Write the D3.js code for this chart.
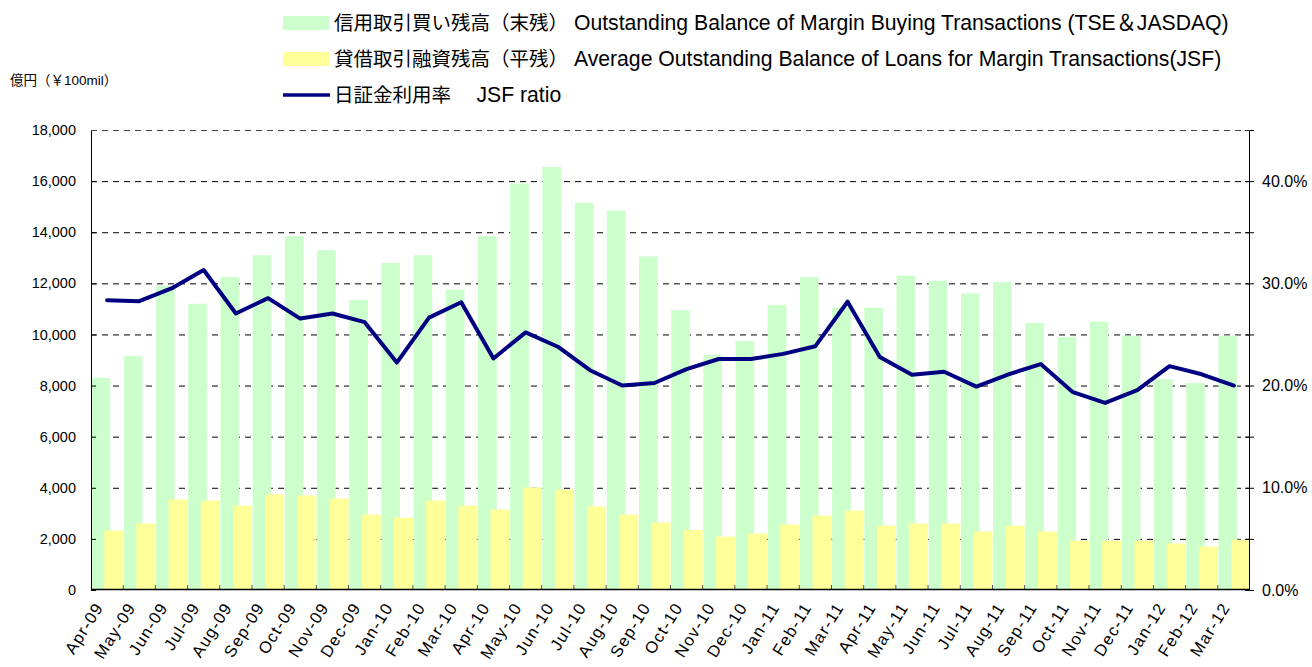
<!DOCTYPE html>
<html>
<head>
<meta charset="utf-8">
<script src="https://d3js.org/d3.v7.min.js"></script>
<style>
  body { margin: 0; background: #fff; }
  text { font-family: "Liberation Sans", Arial, "Noto Sans CJK JP", sans-serif; fill: #000; }
</style>
</head>
<body>
<div id="content"></div>
<script>
var months = ['Apr-09','May-09','Jun-09','Jul-09','Aug-09','Sep-09','Oct-09','Nov-09','Dec-09','Jan-10','Feb-10','Mar-10',
              'Apr-10','May-10','Jun-10','Jul-10','Aug-10','Sep-10','Oct-10','Nov-10','Dec-10','Jan-11','Feb-11','Mar-11',
              'Apr-11','May-11','Jun-11','Jul-11','Aug-11','Sep-11','Oct-11','Nov-11','Dec-11','Jan-12','Feb-12','Mar-12'];

// 信用取引買い残高（末残）
var buying = [8300, 9150, 11900, 11200, 12250, 13100, 13850, 13300, 11350, 12800, 13100, 11750,
              13850, 15900, 16550, 15150, 14850, 13050, 10950, 9200, 9750, 11150, 12250, 11050,
              11050, 12300, 12100, 11600, 12050, 10450, 9900, 10500, 9950, 8250, 8100, 9950];

// 貸借取引融資残高（平残）
var loans = [2325, 2600, 3540, 3500, 3300, 3740, 3700, 3580, 2950, 2830, 3500, 3300,
             3150, 4010, 3930, 3270, 2950, 2640, 2350, 2090, 2210, 2560, 2910, 3110,
             2520, 2600, 2600, 2290, 2520, 2290, 1930, 1930, 1930, 1820, 1700, 1970];

// 日証金利用率 (%)
var jsfRatio = [28.35, 28.25, 29.5, 31.3, 27.05, 28.55, 26.55, 27.05, 26.2, 22.25, 26.65, 28.15,
                22.65, 25.2, 23.8, 21.5, 20.0, 20.25, 21.6, 22.6, 22.6, 23.1, 23.85, 28.2,
                22.8, 21.05, 21.35, 19.9, 21.1, 22.1, 19.35, 18.3, 19.55, 21.9, 21.1, 20.0];

var leftTicks = [0, 2000, 4000, 6000, 8000, 10000, 12000, 14000, 16000, 18000];
var rightTicks = [0, 10, 20, 30, 40];
var rightMinor = [5, 15, 25, 35, 45];

var legendJa = ['信用取引買い残高（末残）', '貸借取引融資残高（平残）', '日証金利用率　'];
var legendEn = [' Outstanding Balance of Margin Buying Transactions (TSE＆JASDAQ)',
                ' Average Outstanding Balance of Loans for Margin Transactions(JSF)',
                ' JSF ratio'];

var margin = { top: 130, right: 62, bottom: 77, left: 91 };
var totalW = 1312, totalH = 667;
var width = totalW - margin.left - margin.right,
    height = totalH - margin.top - margin.bottom;

var green = '#ccffcc', yellow = '#ffff99', navy = '#000080';

var svg = d3.select('#content').append('svg')
    .attr('width', totalW)
    .attr('height', totalH);

var g = svg.append('g')
    .attr('transform', 'translate(' + margin.left + ',' + margin.top + ')');

var xScale = d3.scaleBand()
    .domain(months)
    .range([0, width]);

var yScale = d3.scaleLinear()
    .domain([0, 18000])
    .range([height, 0]);

var yRight = d3.scaleLinear()
    .domain([0, 45])
    .range([height, 0]);

var bw = xScale.bandwidth();

// gridlines
g.selectAll('line.grid').data(leftTicks.filter(function(d){ return d > 0; }))
    .enter().append('line')
    .attr('class', 'grid')
    .attr('x1', 0).attr('x2', width)
    .attr('y1', function(d){ return yScale(d) + 0.5; })
    .attr('y2', function(d){ return yScale(d) + 0.5; })
    .style('stroke', '#000')
    .style('stroke-width', 1)
    .style('stroke-dasharray', '6,5');

// bars
g.selectAll('rect.buy').data(buying)
    .enter().append('rect')
    .attr('class', 'buy')
    .attr('x', function(d, i){ return xScale(months[i]) + bw * 0.02; })
    .attr('width', bw * 0.58)
    .attr('y', function(d){ return yScale(d); })
    .attr('height', function(d){ return height - yScale(d); })
    .style('fill', green);

g.selectAll('rect.loan').data(loans)
    .enter().append('rect')
    .attr('class', 'loan')
    .attr('x', function(d, i){ return xScale(months[i]) + bw * 0.41; })
    .attr('width', bw * 0.59)
    .attr('y', function(d){ return yScale(d); })
    .attr('height', function(d){ return height - yScale(d); })
    .style('fill', yellow);

// ratio line
var line = d3.line()
    .x(function(d, i){ return xScale(months[i]) + bw / 2; })
    .y(function(d){ return yRight(d); });

g.append('path')
    .datum(jsfRatio)
    .attr('d', line)
    .style('fill', 'none')
    .style('stroke', navy)
    .style('stroke-width', 4)
    .style('stroke-linejoin', 'round')
    .style('stroke-linecap', 'round');

// left axis
var yAxis = d3.axisLeft(yScale)
    .tickValues(leftTicks)
    .tickSize(0)
    .tickPadding(15)
    .tickFormat(d3.format(','));

var yGuide = g.append('g').call(yAxis);
yGuide.select('.domain').remove();
yGuide.selectAll('text').style('font-size', '14.5px').style('font-family', '"Liberation Sans", Arial, sans-serif');

g.selectAll('line.ltick').data(leftTicks)
    .enter().append('line')
    .attr('x1', 0).attr('x2', 5)
    .attr('y1', function(d){ return yScale(d) + 0.5; })
    .attr('y2', function(d){ return yScale(d) + 0.5; })
    .style('stroke', '#000');

// right axis
var rAxis = d3.axisRight(yRight)
    .tickValues(rightTicks)
    .tickSize(0)
    .tickPadding(12)
    .tickFormat(function(d){ return d.toFixed(1) + '%'; });

var rGuide = g.append('g')
    .attr('transform', 'translate(' + width + ',0)')
    .call(rAxis);
rGuide.select('.domain').remove();
rGuide.selectAll('text').style('font-size', '16px').style('font-family', '"Liberation Sans", Arial, sans-serif');

g.selectAll('line.rtick').data(rightTicks.concat(rightMinor))
    .enter().append('line')
    .attr('x1', width - 5).attr('x2', width + 4)
    .attr('y1', function(d){ return yRight(d) + 0.5; })
    .attr('y2', function(d){ return yRight(d) + 0.5; })
    .style('stroke', '#000');

// x ticks at category boundaries, pointing inward
g.selectAll('line.xtick').data(months.slice(1))
    .enter().append('line')
    .attr('x1', function(d){ return xScale(d); })
    .attr('x2', function(d){ return xScale(d); })
    .attr('y1', height).attr('y2', height - 5)
    .style('stroke', '#555');

// frame: left, bottom, right
g.append('line').attr('x1', 0.5).attr('x2', 0.5).attr('y1', 0).attr('y2', height).style('stroke', '#000');
g.append('line').attr('x1', width - 0.5).attr('x2', width - 0.5).attr('y1', 0).attr('y2', height).style('stroke', '#000');
g.append('line').attr('x1', 0).attr('x2', width).attr('y1', height - 0.5).attr('y2', height - 0.5).style('stroke', '#000').style('stroke-width', 1.5);
g.append('line').attr('x1', 0).attr('x2', width).attr('y1', 0.5).attr('y2', 0.5)
    .style('stroke', '#444').style('stroke-dasharray', '6,5');

// x labels
g.selectAll('text.xlab').data(months)
    .enter().append('text')
    .attr('class', 'xlab')
    .attr('text-anchor', 'end')
    .attr('transform', function(d){
        return 'translate(' + (xScale(d) + bw / 2 - 3) + ',' + (height + 17) + ') rotate(-58)';
    })
    .style('font-size', '16.5px')
    .style('letter-spacing', '1.3px')
    .text(function(d){ return d; });

// unit label
svg.append('text')
    .attr('x', 10).attr('y', 85)
    .style('font-size', '13.5px')
    .text('億円（￥100mil）');

// legend
var legend = svg.append('g');
var rows = legend.selectAll('g').data(legendJa)
    .enter().append('g')
    .attr('transform', function(d, i){ return 'translate(283,' + (23 + i * 36) + ')'; });

rows.each(function(d, i){
    var r = d3.select(this);
    if (i < 2) {
        r.append('rect')
            .attr('x', 0).attr('y', -7)
            .attr('width', 46).attr('height', 14)
            .style('fill', i === 0 ? green : yellow);
    } else {
        r.append('line')
            .attr('x1', 0).attr('x2', 47)
            .attr('y1', 0).attr('y2', 0)
            .style('stroke', navy)
            .style('stroke-width', 3.5);
    }
    var t = r.append('text')
        .attr('x', 51).attr('y', 7)
        .attr('xml:space', 'preserve')
        .style('white-space', 'pre');
    t.append('tspan')
        .style('font-size', '19.5px')
        .text(d);
    t.append('tspan')
        .style('font-size', '21.2px')
        .text(legendEn[i]);
});
</script>
</body>
</html>
